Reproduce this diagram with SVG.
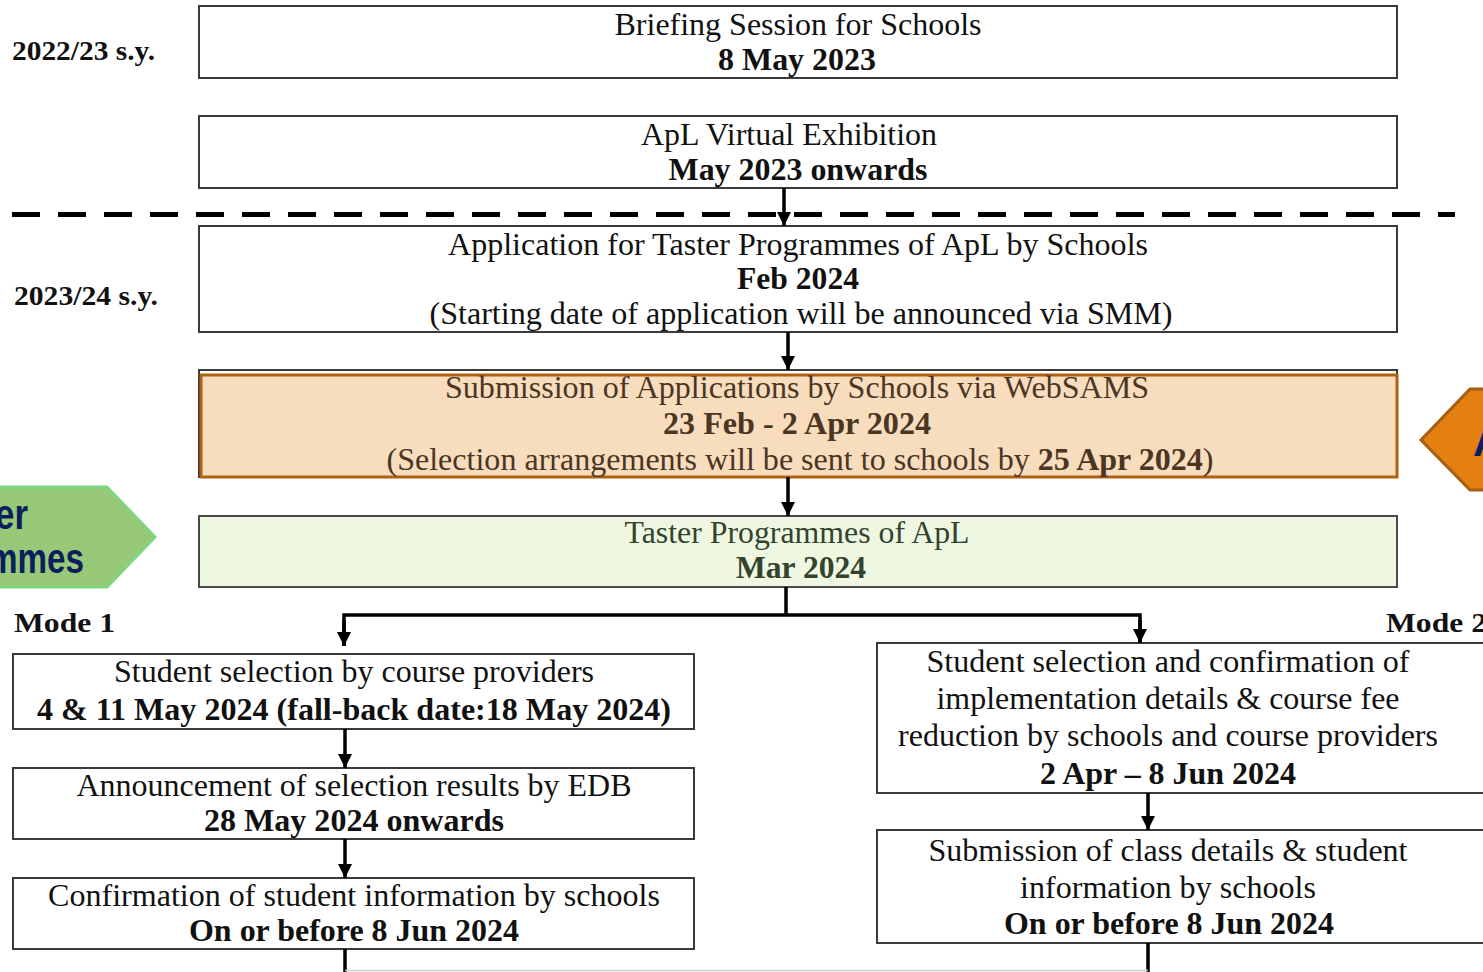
<svg xmlns="http://www.w3.org/2000/svg" width="1483" height="972" viewBox="0 0 1483 972">
<defs>
<style>
.box{fill:#fff;stroke:#3a3a3a;stroke-width:2}
.t{font-family:"Liberation Serif","Times New Roman",serif;font-size:32px;fill:#111;text-anchor:middle}
.b{font-weight:bold}
.lab{font-family:"Liberation Serif","Times New Roman",serif;font-size:28px;font-weight:bold;fill:#111}
.ln{stroke:#000;stroke-width:3.5;fill:none}
.tag{font-family:"Liberation Sans",Arial,sans-serif;font-weight:bold;font-size:42px;fill:#0b1f5c}
</style>
<marker id="ah" viewBox="0 0 10 10" refX="10" refY="5" markerWidth="4" markerHeight="4" orient="auto" markerUnits="strokeWidth">
<path d="M0,0 L10,5 L0,10 Z" fill="#000"/>
</marker>
</defs>
<rect width="1483" height="972" fill="#fff"/>

<g id="labels">
<text class="lab" x="12" y="60" textLength="143" lengthAdjust="spacingAndGlyphs">2022/23 s.y.</text>
<text class="lab" x="14" y="305" textLength="144" lengthAdjust="spacingAndGlyphs">2023/24 s.y.</text>
<text class="lab" x="14" y="632" textLength="101" lengthAdjust="spacingAndGlyphs">Mode 1</text>
<text class="lab" x="1386" y="632" textLength="101" lengthAdjust="spacingAndGlyphs">Mode 2</text>
</g>

<line x1="12" y1="214.5" x2="1455" y2="214.5" stroke="#000" stroke-width="5" stroke-dasharray="28 18"/>

<g id="tag-taster">
<polygon points="-10,487 107,487 155,537 107,587 -10,587" fill="#97c877" stroke="#7fd67f" stroke-width="3"/>
<text class="tag" x="-5" y="529" textLength="33" lengthAdjust="spacingAndGlyphs">er</text>
<text class="tag" x="-12" y="573" textLength="96" lengthAdjust="spacingAndGlyphs">mmes</text>
</g>

<g id="tag-app">
<polygon points="1495,389 1470,389 1421,440 1470,490 1495,490" fill="#e47f12" stroke="#a65e12" stroke-width="3"/>
<text class="tag" x="1473" y="456">A</text>
</g>

<g id="n1">
<rect class="box" x="199" y="6" width="1198" height="72"/>
<text class="t" x="798" y="35" textLength="367" lengthAdjust="spacingAndGlyphs">Briefing Session for Schools</text>
<text class="t b" x="797" y="70" textLength="158" lengthAdjust="spacingAndGlyphs">8 May 2023</text>
</g>
<g id="n2">
<rect class="box" x="199" y="116" width="1198" height="72"/>
<text class="t" x="789" y="145" textLength="296" lengthAdjust="spacingAndGlyphs">ApL Virtual Exhibition</text>
<text class="t b" x="798" y="180" textLength="259" lengthAdjust="spacingAndGlyphs">May 2023 onwards</text>
</g>
<g id="n3">
<rect class="box" x="199" y="226" width="1198" height="106"/>
<text class="t" x="798" y="255" textLength="700" lengthAdjust="spacingAndGlyphs">Application for Taster Programmes of ApL by Schools</text>
<text class="t b" x="798" y="289" textLength="122" lengthAdjust="spacingAndGlyphs">Feb 2024</text>
<text class="t" x="801" y="324" textLength="743" lengthAdjust="spacingAndGlyphs">(Starting date of application will be announced via SMM)</text>
</g>
<g id="n4">
<rect class="box" x="199" y="370" width="1198" height="107"/>
<rect x="201" y="375" width="1196" height="102" fill="#f7dcbd" stroke="#b0600f" stroke-width="3"/>
<text class="t" x="797" y="398" textLength="704" lengthAdjust="spacingAndGlyphs" style="fill:#4a3622">Submission of Applications by Schools via WebSAMS</text>
<text class="t b" x="797" y="434" textLength="268" lengthAdjust="spacingAndGlyphs" style="fill:#4a3622">23 Feb - 2 Apr 2024</text>
<text class="t" x="800" y="470" textLength="827" lengthAdjust="spacingAndGlyphs" style="fill:#4a3622">(Selection arrangements will be sent to schools by <tspan class="b">25 Apr 2024</tspan>)</text>
</g>
<g id="n5">
<rect x="199" y="516" width="1198" height="71" fill="#eef7e2" stroke="#4a4a4a" stroke-width="2"/>
<text class="t" x="797" y="543" textLength="345" lengthAdjust="spacingAndGlyphs" style="fill:#34432c">Taster Programmes of ApL</text>
<text class="t b" x="801" y="578" textLength="130" lengthAdjust="spacingAndGlyphs" style="fill:#34432c">Mar 2024</text>
</g>

<g id="n6">
<rect class="box" x="13" y="654" width="681" height="75"/>
<text class="t" x="354" y="682" textLength="480" lengthAdjust="spacingAndGlyphs">Student selection by course providers</text>
<text class="t b" x="354" y="720" textLength="634" lengthAdjust="spacingAndGlyphs">4 &amp; 11 May 2024 (fall-back date:18 May 2024)</text>
</g>
<g id="n7">
<rect class="box" x="13" y="768" width="681" height="71"/>
<text class="t" x="354" y="796" textLength="555" lengthAdjust="spacingAndGlyphs">Announcement of selection results by EDB</text>
<text class="t b" x="354" y="831" textLength="300" lengthAdjust="spacingAndGlyphs">28 May 2024 onwards</text>
</g>
<g id="n8">
<rect class="box" x="13" y="878" width="681" height="71"/>
<text class="t" x="354" y="906" textLength="612" lengthAdjust="spacingAndGlyphs">Confirmation of student information by schools</text>
<text class="t b" x="354" y="941" textLength="330" lengthAdjust="spacingAndGlyphs">On or before 8 Jun 2024</text>
</g>
<g id="n9">
<rect class="box" x="877" y="643" width="620" height="150"/>
<text class="t" x="1168" y="672" textLength="483" lengthAdjust="spacingAndGlyphs">Student selection and confirmation of</text>
<text class="t" x="1168" y="709" textLength="463" lengthAdjust="spacingAndGlyphs">implementation details &amp; course fee</text>
<text class="t" x="1168" y="746" textLength="540" lengthAdjust="spacingAndGlyphs">reduction by schools and course providers</text>
<text class="t b" x="1168" y="784" textLength="256" lengthAdjust="spacingAndGlyphs">2 Apr – 8 Jun 2024</text>
</g>
<g id="n10">
<rect class="box" x="877" y="830" width="620" height="113"/>
<text class="t" x="1168" y="861" textLength="479" lengthAdjust="spacingAndGlyphs">Submission of class details &amp; student</text>
<text class="t" x="1168" y="898" textLength="296" lengthAdjust="spacingAndGlyphs">information by schools</text>
<text class="t b" x="1169" y="934" textLength="330" lengthAdjust="spacingAndGlyphs">On or before 8 Jun 2024</text>
</g>

<g id="connectors">
<line class="ln" x1="784" y1="188" x2="784" y2="226" marker-end="url(#ah)"/>
<line class="ln" x1="788" y1="332" x2="788" y2="370" marker-end="url(#ah)"/>
<line class="ln" x1="788" y1="477" x2="788" y2="516" marker-end="url(#ah)"/>
<polyline class="ln" points="786,587 786,615"/>
<polyline class="ln" points="344,646 344,615 1140,615 1140,643" stroke-width="4"/>
<line class="ln" x1="344" y1="620" x2="344" y2="646" marker-end="url(#ah)"/>
<line class="ln" x1="1140" y1="620" x2="1140" y2="643" marker-end="url(#ah)"/>
<line class="ln" x1="345" y1="729" x2="345" y2="768" marker-end="url(#ah)"/>
<line class="ln" x1="345" y1="839" x2="345" y2="878" marker-end="url(#ah)"/>
<line class="ln" x1="345" y1="949" x2="345" y2="975"/>
<line class="ln" x1="1148" y1="793" x2="1148" y2="830" marker-end="url(#ah)"/>
<line class="ln" x1="1148" y1="943" x2="1148" y2="975"/>
<line x1="345" y1="970.5" x2="1148" y2="970.5" stroke="#cfcfcf" stroke-width="1.5"/>
</g>
</svg>
